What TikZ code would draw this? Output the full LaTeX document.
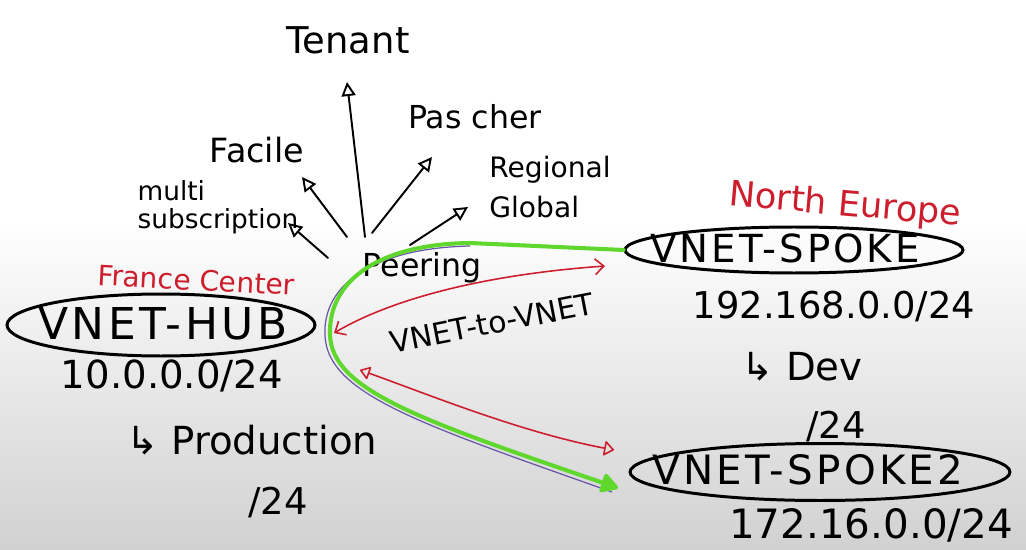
\documentclass[tikz,border=0pt]{standalone}
\usepackage{fontspec}
\setmainfont{DejaVu Sans}
\newfontfamily\spacedfont[LetterSpace=8]{DejaVu Sans}
\usetikzlibrary{shapes.geometric,arrows.meta}

\definecolor{inkred}{RGB}{205,30,45}
\definecolor{inkgreen}{RGB}{95,215,45}
\definecolor{inkpurple}{RGB}{105,85,165}

\tikzset{
    hand/.style={font=\fontsize{#1}{#1}\selectfont, inner sep=1pt},
    vname/.style={font=\spacedfont\fontsize{#1}{#1}\selectfont, inner sep=1pt},
    vnet/.style={ellipse, draw, line width=1.7pt, inner sep=0pt},
    fan/.style={line width=1.1pt, line cap=round, -{Triangle[open,length=8pt,width=8pt]}},
    vlink/.style={inkred, line width=0.9pt, {Straight Barb[length=5pt,width=9pt]}-{Straight Barb[length=5pt,width=9pt]}},
    vlinkb/.style={inkred, line width=0.9pt, {Triangle[open,round,length=6pt,width=8pt]}-{Triangle[open,round,length=6pt,width=9pt]}},
    route/.style={inkgreen, line width=2.3pt, line cap=round, -{Triangle[round,length=11pt,width=12pt]}}
}

\begin{document}
\begin{tikzpicture}[x=0.02cm, y=-0.02cm]
                \useasboundingbox (0,0) rectangle (1026,550);
                \fill[white] (0,0) rectangle (1026,220);
                \shade[top color=white, bottom color=black!18] (0,220) rectangle (1026,550);
                
                % what peering gives
                \node[hand=21] (tenant) at (348,40) {Tenant};
                \node[hand=18] (cheap) at (475,117) {Pas cher};
                \node[hand=19] (easy) at (257,150) {Facile};
                \node[hand=15, align=left, font=\fontsize{15}{16}\selectfont] (multi) at (218,207) {multi\\subscription};
                \node[hand=16, align=left, font=\fontsize{16}{23}\selectfont] (region) at (550,187) {Regional\\Global};
                \node[hand=18] (peering) at (422,268) {Peering};
                
                \coordinate (fTenant) at (365,237);
                \coordinate (tTenant) at (347,82);
                \coordinate (fCheap) at (372,233);
                \coordinate (tCheap) at (432,157);
                \coordinate (fEasy) at (347,237);
                \coordinate (tEasy) at (302,177);
                \coordinate (fMulti) at (328,258);
                \coordinate (tMulti) at (288,223);
                \coordinate (fRegion) at (410,245);
                \coordinate (tRegion) at (468,207);
                
                \draw[fan] (fTenant) -- (tTenant);
                \draw[fan] (fCheap) -- (tCheap);
                \draw[fan] (fEasy) -- (tEasy);
                \draw[fan] (fMulti) -- (tMulti);
                \draw[fan] (fRegion) -- (tRegion);
                
                % hub
                \node[hand=16, inkred, rotate=-3] (france) at (196,280) {France Center};
                \node[vnet, minimum width=6.16cm, minimum height=1.24cm] (hub) at (161,325) {};
                \node[vname=25] (hubname) at (163,324) {VNET-HUB};
                \node[hand=22] (hubnet) at (172,376) {10.0.0.0/24};
                \node[hand=22] (hubuse) at (252,440) {↳ Production};
                \node[hand=21] (hubmask) at (278,503) {/24};
                
                % spokes
                \node[hand=20, inkred, rotate=-5] (north) at (845,206) {North Europe};
                \node[vnet, minimum width=6.76cm, minimum height=0.92cm] (spoke) at (794,250) {};
                \node[vname=22] (spokename) at (785,248) {VNET-SPOKE};
                \node[hand=21] (spokenet) at (834,307) {192.168.0.0/24};
                \node[hand=22] (spokeuse) at (802,367) {↳ Dev};
                \node[hand=21] (spokemask) at (836,427) {/24};
                
                \node[vnet, minimum width=7.6cm, minimum height=1.14cm] (spokeb) at (820,472) {};
                \node[vname=23] (spokebname) at (808,470) {VNET-SPOKE2};
                \node[hand=23] (spokebnet) at (871,525) {172.16.0.0/24};
                
                % peering links
                \node[hand=17, rotate=11] (vtv) at (492,323) {VNET-to-VNET};
                
                \coordinate (rA) at (605,266);
                \coordinate (rB) at (334,333);
                \coordinate (rC) at (360,370);
                \coordinate (rD) at (614,450);
                \coordinate (gTip) at (618,488);
                
                \draw[inkpurple, line width=0.7pt] (470,246) .. controls (378,248) and (322,282) .. (325,336)
                    .. controls (328,394) and (420,424) .. (612,492);
                \draw[route] (spoke.west) -- (470,243) .. controls (380,244) and (328,280) .. (330,335)
                    .. controls (332,390) and (420,420) .. (gTip);
                \draw[vlink] (rA) .. controls (480,275) and (390,300) .. (rB);
                \draw[vlinkb] (rC) .. controls (430,395) and (520,432) .. (rD);
            \end{tikzpicture}
\end{document}
